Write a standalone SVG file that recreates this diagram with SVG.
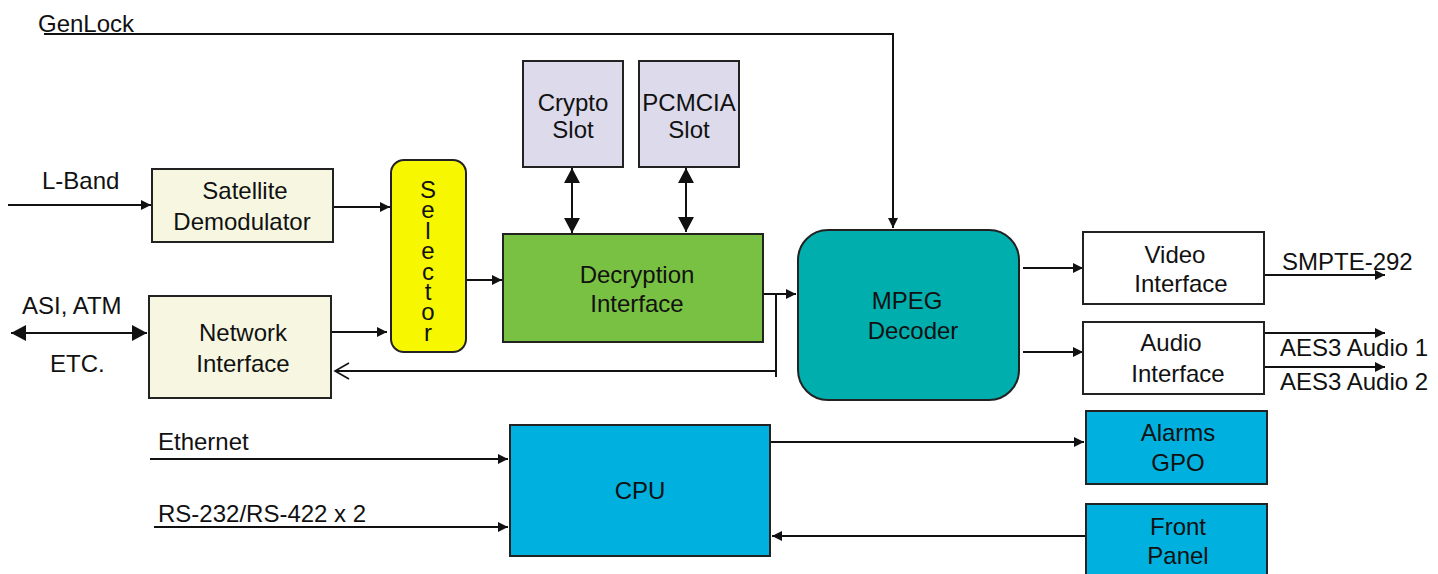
<svg xmlns="http://www.w3.org/2000/svg" width="1438" height="574" viewBox="0 0 1438 574">
<style>
text{font-family:"Liberation Sans",Arial,sans-serif;font-size:24px;fill:#111}
.c{text-anchor:middle}
.box{stroke:#222;stroke-width:2}
.ln{stroke:#111;stroke-width:2;fill:none}
.vert{writing-mode:vertical-rl;text-orientation:upright;letter-spacing:-6.6px}
</style>
<defs>
<marker id="a" markerUnits="userSpaceOnUse" markerWidth="12" markerHeight="12" refX="10" refY="5" orient="auto"><path d="M0,0 L10,5 L0,10 z" fill="#111"/></marker>
<marker id="b" markerUnits="userSpaceOnUse" markerWidth="18" markerHeight="18" refX="15" refY="8" orient="auto-start-reverse"><path d="M0,0 L15,8 L0,16 z" fill="#111"/></marker>
<marker id="o" markerUnits="userSpaceOnUse" markerWidth="18" markerHeight="20" refX="15" refY="9" orient="auto"><path d="M1,1 L15,9 L1,17" fill="none" stroke="#111" stroke-width="1.6"/></marker>
</defs>
<rect width="1438" height="574" fill="#fff"/>
<g id="connectors">
<path class="ln" d="M44,34 H893 V228" marker-end="url(#a)"/>
<path class="ln" d="M8,205 H151" marker-end="url(#a)"/>
<path class="ln" d="M333,207 H390" marker-end="url(#a)"/>
<path class="ln" d="M331,332 H387" marker-end="url(#a)"/>
<path class="ln" d="M11,333 H147" marker-start="url(#b)" marker-end="url(#b)"/>
<path class="ln" d="M466,280 H502" marker-end="url(#a)"/>
<path class="ln" d="M572,168 V233" marker-start="url(#b)" marker-end="url(#b)"/>
<path class="ln" d="M686,168 V232" marker-start="url(#b)" marker-end="url(#b)"/>
<path class="ln" d="M763,294 H796" marker-end="url(#a)"/>
<path class="ln" d="M776,294 V377"/>
<path class="ln" d="M776,371 H335" marker-end="url(#o)"/>
<path class="ln" d="M1023,268 H1083" marker-end="url(#a)"/>
<path class="ln" d="M1023,352 H1083" marker-end="url(#a)"/>
<path class="ln" d="M1264,275 H1385" marker-end="url(#a)"/>
<path class="ln" d="M1264,333 H1385" marker-end="url(#a)"/>
<path class="ln" d="M1264,367 H1385" marker-end="url(#a)"/>
<path class="ln" d="M150,459 H508" marker-end="url(#a)"/>
<path class="ln" d="M154,527 H508" marker-end="url(#a)"/>
<path class="ln" d="M770,442 H1084" marker-end="url(#a)"/>
<path class="ln" d="M1085,536 H772" marker-end="url(#a)"/>
</g>
<g id="labels">
<text x="38" y="32">GenLock</text>
<text x="42" y="189">L-Band</text>
<text x="22" y="314">ASI, ATM</text>
<text x="50" y="372">ETC.</text>
<text x="158" y="450">Ethernet</text>
<text x="158" y="522">RS-232/RS-422 x 2</text>
<text x="1282" y="270">SMPTE-292</text>
<text x="1280" y="356">AES3 Audio 1</text>
<text x="1280" y="390">AES3 Audio 2</text>
</g>
<g id="satellite">
<rect class="box" x="152" y="169" width="181" height="73" fill="#f7f7e1"/>
<text class="c" x="245" y="199">Satellite</text>
<text class="c" x="242" y="230">Demodulator</text>
</g>
<g id="network">
<rect class="box" x="149" y="296" width="182" height="102" fill="#f7f7e1"/>
<text class="c" x="243" y="341">Network</text>
<text class="c" x="243" y="372">Interface</text>
</g>
<g id="selector">
<rect class="box" x="391" y="160" width="75" height="192" rx="13" fill="#f7f700"/>
<text class="vert" x="428" y="176">Selector</text>
</g>
<g id="crypto">
<rect class="box" x="523" y="61" width="100" height="106" fill="#dcdaeb"/>
<text class="c" x="573" y="111">Crypto</text>
<text class="c" x="573" y="138">Slot</text>
</g>
<g id="pcmcia">
<rect class="box" x="639" y="61" width="100" height="106" fill="#dcdaeb"/>
<text class="c" x="689" y="111">PCMCIA</text>
<text class="c" x="689" y="138">Slot</text>
</g>
<g id="decryption">
<rect class="box" x="503" y="234" width="260" height="108" fill="#79c142"/>
<text class="c" x="637" y="283">Decryption</text>
<text class="c" x="637" y="312">Interface</text>
</g>
<g id="mpeg">
<rect class="box" x="798" y="230" width="221" height="170" rx="30" fill="#00aeae"/>
<text class="c" x="907" y="309">MPEG</text>
<text class="c" x="913" y="339">Decoder</text>
</g>
<g id="video">
<rect class="box" x="1083" y="232" width="181" height="72" fill="#fff"/>
<text class="c" x="1175" y="263">Video</text>
<text class="c" x="1181" y="292">Interface</text>
</g>
<g id="audio">
<rect class="box" x="1083" y="322" width="181" height="72" fill="#fff"/>
<text class="c" x="1171" y="351">Audio</text>
<text class="c" x="1178" y="382">Interface</text>
</g>
<g id="cpu">
<rect class="box" x="510" y="425" width="260" height="131" fill="#00b0de"/>
<text class="c" x="640" y="499">CPU</text>
</g>
<g id="alarms">
<rect class="box" x="1086" y="411" width="181" height="73" fill="#00b0de"/>
<text class="c" x="1178" y="441">Alarms</text>
<text class="c" x="1178" y="471">GPO</text>
</g>
<g id="frontpanel">
<rect class="box" x="1086" y="504" width="181" height="80" fill="#00b0de"/>
<text class="c" x="1178" y="535">Front</text>
<text class="c" x="1178" y="564">Panel</text>
</g>
</svg>
